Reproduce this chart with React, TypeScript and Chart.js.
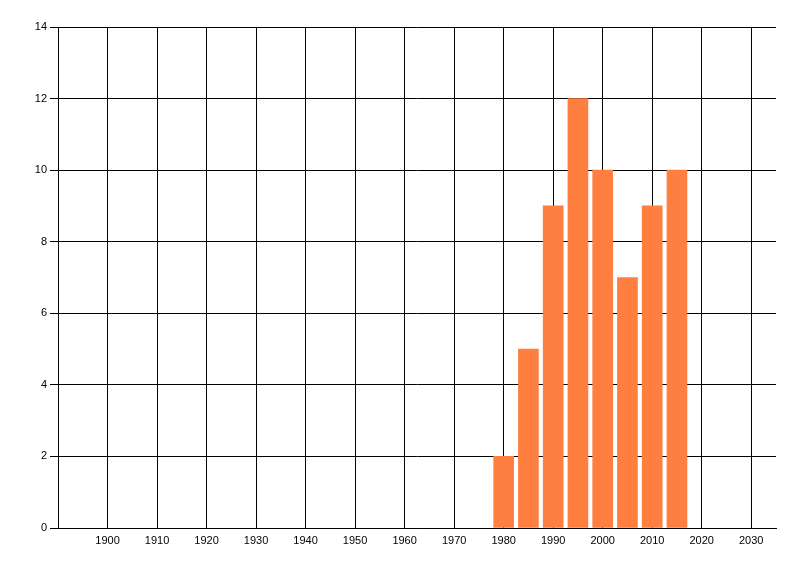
import React, { useEffect, useRef } from 'react';
import { Chart, registerables } from 'chart.js';

Chart.register(...registerables);

const years = [1980, 1985, 1990, 1995, 2000, 2005, 2010, 2015];
const counts = [2, 5, 9, 12, 10, 7, 9, 10];
const xTicks = [1900, 1910, 1920, 1930, 1940, 1950, 1960, 1970, 1980, 1990, 2000, 2010, 2020, 2030];

const FONT = { family: 'Liberation Sans, Arial, sans-serif', size: 11 };

export default function App() {
  const ref = useRef<HTMLCanvasElement | null>(null);

  useEffect(() => {
    if (!ref.current) return;
    const chart = new Chart(ref.current, {
      type: 'bar',
      data: {
        datasets: [
          {
            data: years.map((y, i) => ({ x: y, y: counts[i] })),
            backgroundColor: '#FF7F40',
            borderWidth: 0,
            barThickness: 20,
          },
        ],
      },
      options: {
        animation: false,
        responsive: true,
        maintainAspectRatio: false,
        layout: { padding: { top: 27, right: 24, left: 0, bottom: 0 } },
        plugins: { legend: { display: false }, tooltip: { enabled: false } },
        scales: {
          x: {
            type: 'linear',
            min: 1890,
            max: 2035,
            offset: false,
            afterBuildTicks: (axis: any) => {
              axis.ticks = xTicks.map((v) => ({ value: v }));
            },
            afterFit: (axis: any) => {
              axis.height = 48;
            },
            grid: { color: '#000', lineWidth: 1, drawTicks: false, offset: false },
            border: { color: '#000', width: 1 },
            ticks: { color: '#000', font: FONT, padding: 6, maxRotation: 0, autoSkip: false, callback: (v: any) => String(v) },
          },
          y: {
            min: 0,
            max: 14,
            afterFit: (axis: any) => {
              axis.width = 58;
            },
            grid: { color: '#000', lineWidth: 1, tickLength: 8 },
            border: { color: '#000', width: 1 },
            ticks: { stepSize: 2, color: '#000', font: FONT, padding: 3 },
          },
        },
      },
    });
    return () => chart.destroy();
  }, []);

  return (
    <div style={{ position: 'fixed', left: 0, top: 0, width: 800, height: 576, background: '#fff' }}>
      <canvas ref={ref} />
    </div>
  );
}
